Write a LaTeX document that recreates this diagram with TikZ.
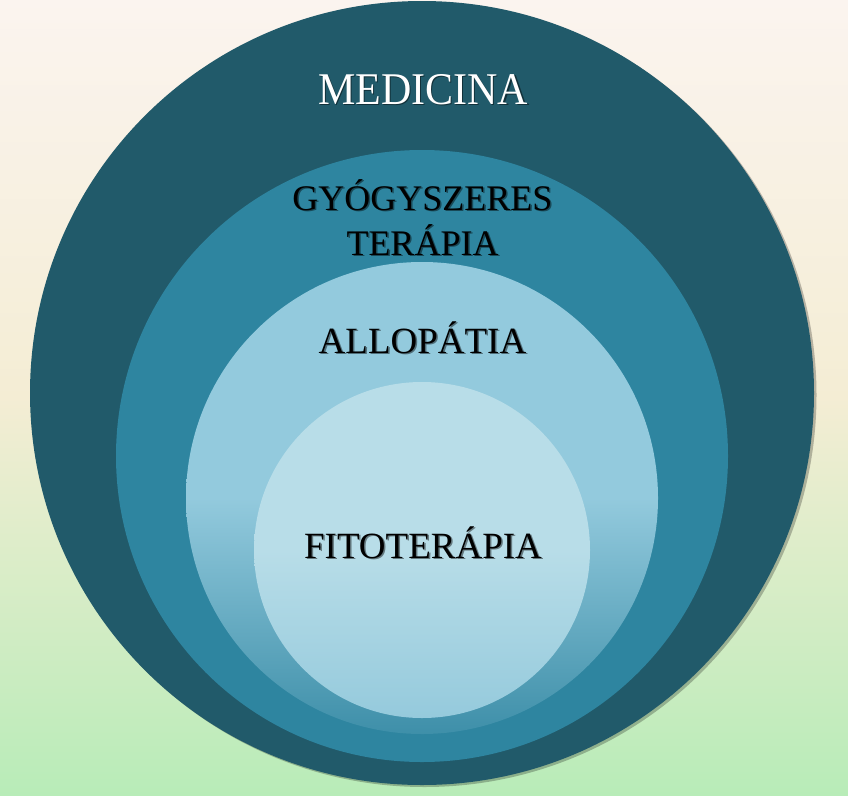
\documentclass[tikz,border=0pt]{standalone}
\usepackage{fontspec}
\setmainfont{Liberation Serif}
\usetikzlibrary{positioning}
\definecolor{bgtop}{RGB}{251,244,239}
\definecolor{bgmid}{RGB}{244,237,212}
\definecolor{bgbottom}{RGB}{184,236,184}
\definecolor{darkteal}{RGB}{33,90,106}
\definecolor{midteal}{RGB}{46,133,160}
\definecolor{lightteal}{RGB}{147,202,221}
\definecolor{lowteal}{RGB}{62,143,169}
\definecolor{paleblue}{RGB}{184,221,232}
\definecolor{lowblue}{RGB}{149,202,220}

\begin{document}
\begin{tikzpicture}[x=1pt, y=-1pt,
  ringtext/.style={anchor=base, inner sep=0pt},
  shadowtext/.style={anchor=base, inner sep=0pt, text=black, opacity=0.45}]
% Background
\shade[top color=bgtop, bottom color=bgbottom, middle color=bgmid] (0,0) rectangle (848,795);
\useasboundingbox (0,0) rectangle (848,795);

% Rings
\fill[black, opacity=0.25] (424.5,395) circle (392);
\fill[darkteal] (422,393) circle (392);
\fill[midteal] (422,456) circle (306);
\shade[top color=lightteal, bottom color=lowteal, middle color=lightteal] (422,498) circle (236);
\shade[top color=paleblue, bottom color=lowblue, middle color=paleblue] (422,550) circle (168);

% Labels
\node[shadowtext, font=\fontsize{42}{50}\selectfont] (medicina-s) at (424.5,105.5) {\scalebox{1}[1.08]{MEDICINA}};
\node[ringtext, text=white, font=\fontsize{42}{50}\selectfont] (medicina) at (423,104) {\scalebox{1}[1.08]{MEDICINA}};

\node[shadowtext, font=\fontsize{36}{43}\selectfont] (gyogy-s) at (424,211.5) {GYÓGYSZERES};
\node[ringtext, font=\fontsize{36}{43}\selectfont] (gyogy) at (422.5,210) {GYÓGYSZERES};
\node[shadowtext, font=\fontsize{36}{43}\selectfont] (terapia-s) at (424,256.5) {TERÁPIA};
\node[ringtext, font=\fontsize{36}{43}\selectfont] (terapia) at (422.5,255) {TERÁPIA};

\node[shadowtext, font=\fontsize{37}{44}\selectfont] (allo-s) at (424,354.5) {ALLOPÁTIA};
\node[ringtext, font=\fontsize{37}{44}\selectfont] (allo) at (422.5,353) {ALLOPÁTIA};

\node[shadowtext, font=\fontsize{37}{44}\selectfont] (fito-s) at (424.5,559.5) {FITOTERÁPIA};
\node[ringtext, font=\fontsize{37}{44}\selectfont] (fito) at (423,558) {FITOTERÁPIA};
\end{tikzpicture}
\end{document}
